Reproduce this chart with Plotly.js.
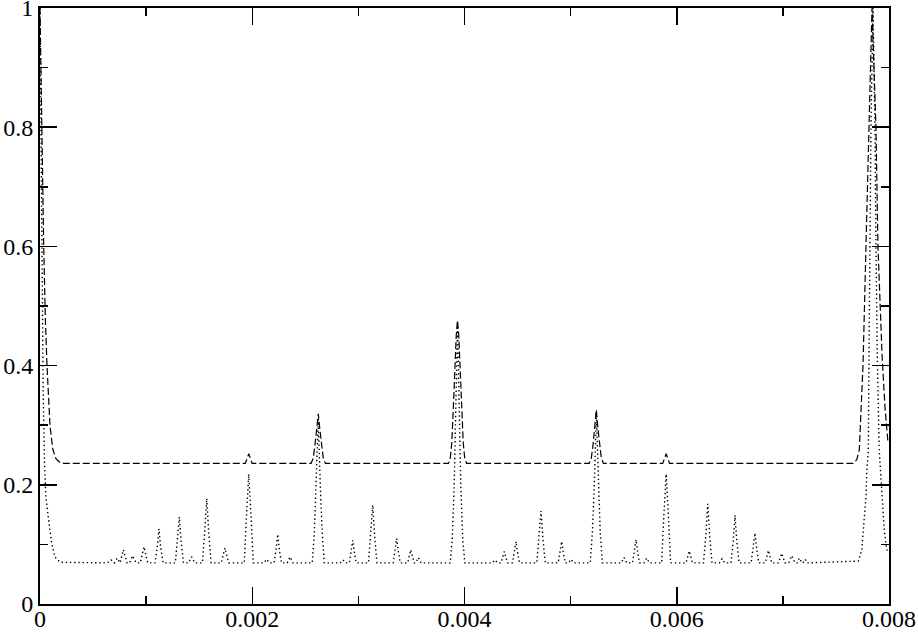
<!DOCTYPE html>
<html>
<head>
<meta charset="utf-8">
<script src="https://cdn.plot.ly/plotly-3.0.1.min.js"></script>
<style>html,body{margin:0;padding:0;background:#fff;}#chart{width:918px;height:632px;}</style>
</head>
<body>
<div id="chart"></div>
<script>
// Dashed series (upper curve)
var dashedX = [0, 0.000010, 0.000022, 0.000035, 0.000050, 0.000066, 0.000094, 0.000120, 0.000150, 0.000190, 0.000230,
  0.001935, 0.001967, 0.001999,
  0.002555, 0.002575, 0.002590, 0.002605, 0.002622, 0.002639, 0.002654, 0.002669, 0.002689,
  0.003849, 0.003866, 0.003880, 0.003895, 0.003910, 0.003922, 0.003934, 0.003946, 0.003958, 0.003973, 0.003988, 0.004002, 0.004019,
  0.005175, 0.005195, 0.005210, 0.005225, 0.005242, 0.005259, 0.005274, 0.005289, 0.005309,
  0.005868, 0.005900, 0.005932,
  0.007661, 0.007696, 0.007720, 0.007736, 0.007755, 0.007783, 0.007811, 0.007840, 0.007877, 0.007896, 0.007934, 0.007962, 0.007991];
var dashedY = [1.0, 0.86, 0.72, 0.60, 0.48, 0.40, 0.30, 0.26, 0.244, 0.237, 0.236,
  0.236, 0.252, 0.236,
  0.236, 0.245, 0.265, 0.290, 0.319, 0.290, 0.265, 0.245, 0.236,
  0.236, 0.245, 0.270, 0.330, 0.400, 0.450, 0.476, 0.450, 0.400, 0.330, 0.270, 0.245, 0.236,
  0.236, 0.245, 0.265, 0.292, 0.326, 0.292, 0.265, 0.245, 0.236,
  0.236, 0.252, 0.236,
  0.236, 0.242, 0.258, 0.320, 0.400, 0.600, 0.800, 1.0, 0.800, 0.600, 0.420, 0.330, 0.270];

// Dotted series (lower curve)
var dottedX = [0, 0.000009, 0.000019, 0.000030, 0.000042, 0.000055, 0.000078, 0.000110, 0.000140, 0.000190,
  0.000635, 0.000669, 0.000700, 0.000728, 0.000755, 0.000785, 0.000820, 0.000845, 0.000873, 0.000905, 0.000945, 0.000980, 0.001015,
  0.001083, 0.001105, 0.001121, 0.001137, 0.001160,
  0.001275, 0.001296, 0.001313, 0.001330, 0.001352,
  0.001400, 0.001429, 0.001458,
  0.001530, 0.001552, 0.001571, 0.001590, 0.001612,
  0.001708, 0.001743, 0.001778,
  0.001925, 0.001943, 0.001967, 0.001991, 0.002009,
  0.002110, 0.002136, 0.002162,
  0.002205, 0.002224, 0.002240, 0.002256, 0.002275,
  0.002330, 0.002356, 0.002382,
  0.002565, 0.002585, 0.002603, 0.002622, 0.002641, 0.002659, 0.002679,
  0.002830, 0.002855, 0.002880,
  0.002915, 0.002931, 0.002947, 0.002963, 0.002980,
  0.003095, 0.003117, 0.003135, 0.003153, 0.003175,
  0.003328, 0.003345, 0.003361, 0.003377, 0.003395,
  0.003465, 0.003493, 0.003525,
  0.003542, 0.003565, 0.003590,
  0.003865, 0.003885, 0.003903, 0.003918, 0.003934, 0.003950, 0.003965, 0.003983, 0.004003,
  0.004262, 0.004287, 0.004312,
  0.004345, 0.004375, 0.004405,
  0.004452, 0.004469, 0.004485, 0.004501, 0.004518,
  0.004681, 0.004703, 0.004721, 0.004739, 0.004761,
  0.004883, 0.004900, 0.004916, 0.004932, 0.004949,
  0.004980, 0.005004, 0.005028,
  0.005185, 0.005205, 0.005223, 0.005242, 0.005261, 0.005279, 0.005299,
  0.005478, 0.005503, 0.005528,
  0.005583, 0.005600, 0.005616, 0.005632, 0.005649,
  0.005692, 0.005717, 0.005742,
  0.005858, 0.005876, 0.005900, 0.005924, 0.005942,
  0.006088, 0.006118, 0.006148,
  0.006252, 0.006274, 0.006292, 0.006310, 0.006332,
  0.006402, 0.006427, 0.006452,
  0.006511, 0.006532, 0.006549, 0.006566, 0.006587,
  0.006701, 0.006720, 0.006737, 0.006754, 0.006773,
  0.006835, 0.006863, 0.006895,
  0.006958, 0.006989, 0.007020,
  0.007055, 0.007083, 0.007115,
  0.007135, 0.007155, 0.007180,
  0.007190, 0.007208, 0.007230,
  0.007711, 0.007743, 0.007764, 0.007783, 0.007792, 0.007805, 0.007811, 0.007821, 0.007830, 0.007849,
  0.007868, 0.007877, 0.007891, 0.007908, 0.007931, 0.007953, 0.007971, 0.007988];
var dottedY = [1.0, 0.78, 0.55, 0.36, 0.24, 0.18, 0.146, 0.102, 0.079, 0.070,
  0.069, 0.074, 0.069, 0.077, 0.069, 0.091, 0.069, 0.069, 0.081, 0.069, 0.069, 0.096, 0.069,
  0.069, 0.095, 0.126, 0.095, 0.069,
  0.069, 0.105, 0.146, 0.105, 0.069,
  0.069, 0.079, 0.069,
  0.069, 0.120, 0.177, 0.120, 0.069,
  0.069, 0.094, 0.069,
  0.069, 0.140, 0.218, 0.140, 0.069,
  0.069, 0.075, 0.069,
  0.069, 0.090, 0.117, 0.090, 0.069,
  0.069, 0.079, 0.069,
  0.069, 0.120, 0.200, 0.310, 0.200, 0.120, 0.069,
  0.069, 0.074, 0.069,
  0.069, 0.085, 0.107, 0.085, 0.069,
  0.069, 0.115, 0.166, 0.115, 0.069,
  0.069, 0.088, 0.110, 0.088, 0.069,
  0.069, 0.091, 0.069,
  0.069, 0.078, 0.069,
  0.069, 0.110, 0.200, 0.330, 0.470, 0.330, 0.200, 0.110, 0.069,
  0.069, 0.074, 0.069,
  0.069, 0.088, 0.069,
  0.069, 0.085, 0.105, 0.085, 0.069,
  0.069, 0.110, 0.156, 0.110, 0.069,
  0.069, 0.085, 0.105, 0.085, 0.069,
  0.069, 0.075, 0.069,
  0.069, 0.120, 0.200, 0.320, 0.200, 0.120, 0.069,
  0.069, 0.078, 0.069,
  0.069, 0.087, 0.108, 0.087, 0.069,
  0.069, 0.077, 0.069,
  0.069, 0.140, 0.218, 0.140, 0.069,
  0.069, 0.089, 0.069,
  0.069, 0.115, 0.168, 0.115, 0.069,
  0.069, 0.076, 0.069,
  0.069, 0.105, 0.149, 0.105, 0.069,
  0.069, 0.092, 0.119, 0.092, 0.069,
  0.069, 0.090, 0.069,
  0.069, 0.085, 0.069,
  0.069, 0.081, 0.069,
  0.069, 0.077, 0.069,
  0.069, 0.075, 0.069,
  0.072, 0.090, 0.136, 0.180, 0.225, 0.258, 0.400, 0.600, 0.800, 1.0,
  0.800, 0.600, 0.400, 0.258, 0.186, 0.130, 0.100, 0.085];

var xTickVals = [0, 0.002, 0.004, 0.006, 0.008];
var xTickText = ['0', '0.002', '0.004', '0.006', '0.008'];
var yTickVals = [0, 0.2, 0.4, 0.6, 0.8, 1];
var yTickText = ['0', '0.2', '0.4', '0.6', '0.8', '1'];

var font = {family: '"Liberation Serif", "Times New Roman", serif', size: 24, color: '#000'};

var traces = [
  {x: dashedX, y: dashedY, type: 'scatter', mode: 'lines', line: {color: '#000', width: 1.2, dash: '7px,3px'}, hoverinfo: 'skip'},
  {x: dottedX, y: dottedY, type: 'scatter', mode: 'lines', line: {color: '#000', width: 1.4, dash: '1.4px,2.8px'}, hoverinfo: 'skip'}
];

var layout = {
  width: 918, height: 632,
  margin: {l: 40, r: 29, t: 8, b: 28},
  paper_bgcolor: '#fff', plot_bgcolor: '#fff',
  showlegend: false,
  font: font,
  xaxis: {
    range: [0, 0.008], tickvals: xTickVals, ticktext: xTickText,
    ticks: 'inside', ticklen: 17, tickwidth: 1.5, tickcolor: '#000',
    minor: {dtick: 0.001, tick0: 0, ticks: 'inside', ticklen: 8, tickwidth: 1.5, tickcolor: '#000', showgrid: false},
    showline: true, linecolor: '#000', linewidth: 2, mirror: 'ticks',
    showgrid: false, zeroline: false, tickfont: font, ticklabelstandoff: -8,
    ticklabeloverflow: 'allow'
  },
  yaxis: {
    range: [0, 1], tickvals: yTickVals, ticktext: yTickText,
    ticks: 'inside', ticklen: 17, tickwidth: 1.5, tickcolor: '#000',
    minor: {dtick: 0.1, tick0: 0, ticks: 'inside', ticklen: 8, tickwidth: 1.5, tickcolor: '#000', showgrid: false},
    showline: true, linecolor: '#000', linewidth: 2, mirror: 'ticks',
    showgrid: false, zeroline: false, tickfont: font, ticklabelstandoff: 0,
    ticklabeloverflow: 'allow'
  }
};

Plotly.newPlot('chart', traces, layout, {staticPlot: true, displayModeBar: false});
</script>
</body>
</html>
